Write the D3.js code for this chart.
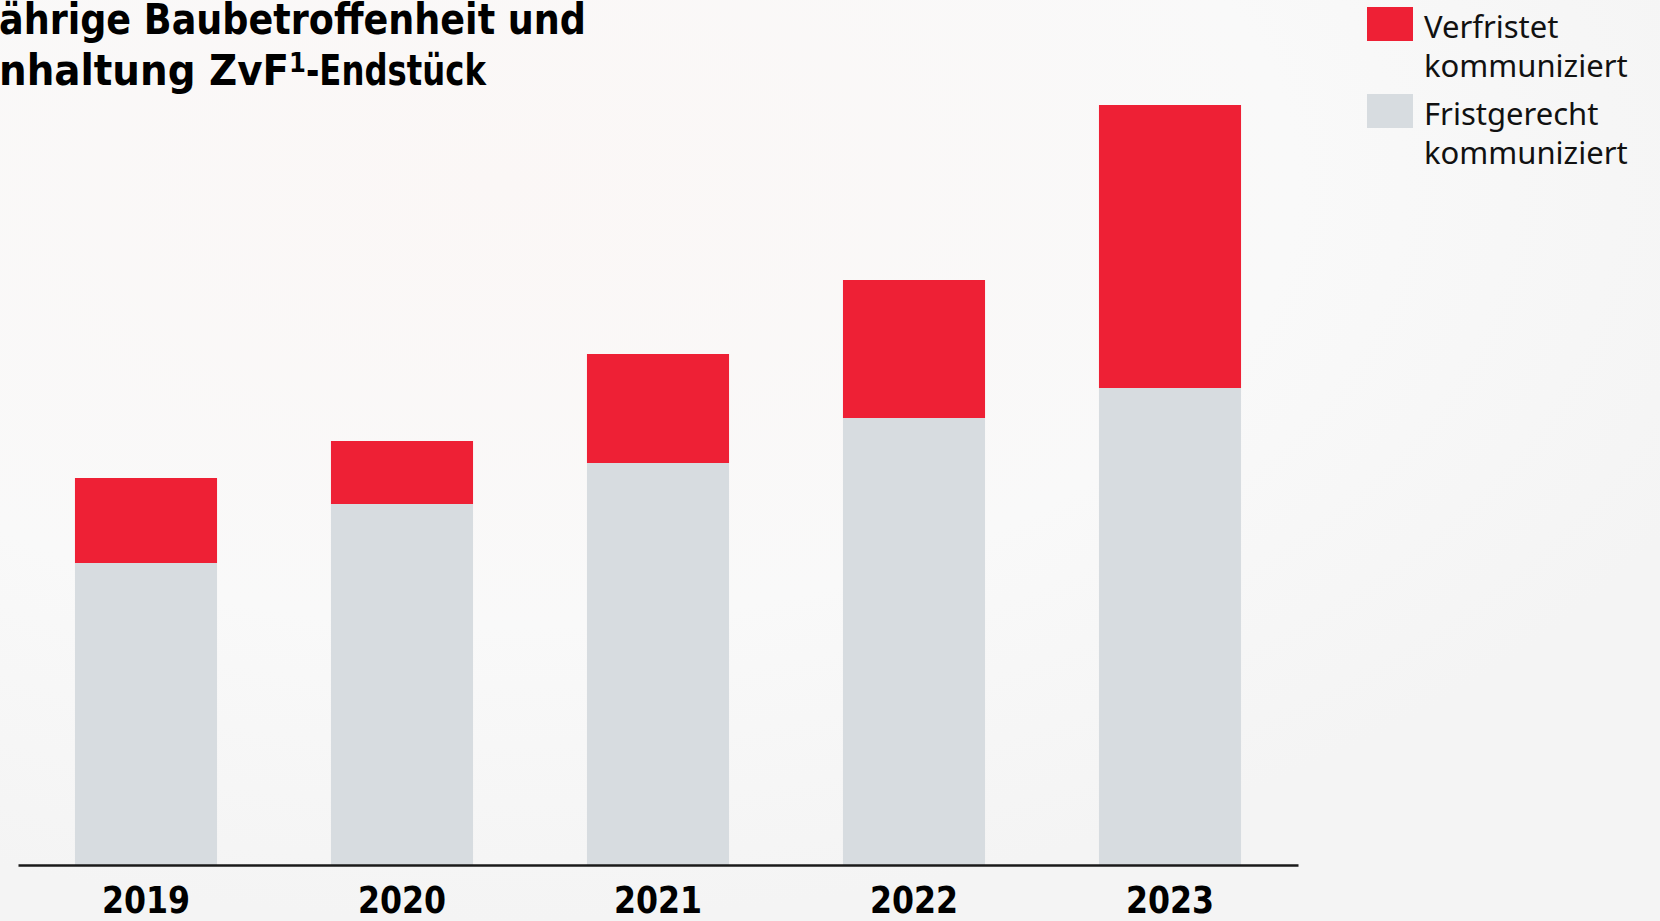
<!DOCTYPE html>
<html>
<head>
<meta charset="utf-8">
<script src="https://cdn.jsdelivr.net/npm/d3@7"></script>
<style>
  html, body { margin: 0; padding: 0; background: #f8f8f8; overflow: hidden; }
  svg { display: block; }
</style>
</head>
<body>
<script>
const years = ["2019", "2020", "2021", "2022", "2023"];
const fristgerecht = [302, 361, 402, 447, 477];
const verfristet = [85, 63, 109, 138, 283];
const seriesNames = ["Verfristet", "Fristgerecht"];
const legendLabels = [["Verfristet", "kommuniziert"], ["Fristgerecht", "kommuniziert"]];
const colors = ["#ee2035", "#d7dce0"];
const titleLines = ["ährige Baubetroffenheit und", "nhaltung ZvF"];

const W = 1660, H = 921;
const svg = d3.select("body").append("svg").attr("width", W).attr("height", H);

// background
const defs = svg.append("defs");
const bg = defs.append("radialGradient").attr("id", "bgw").attr("cx", "30%").attr("cy", "20%").attr("r", "80%");
bg.append("stop").attr("offset", "0%").attr("stop-color", "#fbf7f6");
bg.append("stop").attr("offset", "60%").attr("stop-color", "#f9f9f9");
bg.append("stop").attr("offset", "100%").attr("stop-color", "#f4f4f4");
svg.append("rect").attr("width", W).attr("height", H).attr("fill", "url(#bgw)");

const x = d3.scaleBand().domain(years).range([18, 1298]).paddingInner(0.445).paddingOuter(0.2225);
const y = d3.scaleLinear().domain([0, 800]).range([865, 65]);

const data = years.map((yr, i) => ({ year: yr, Fristgerecht: fristgerecht[i], Verfristet: verfristet[i] }));
const stack = d3.stack().keys(["Fristgerecht", "Verfristet"])(data);
const colorOf = { Verfristet: colors[0], Fristgerecht: colors[1] };

svg.append("g").selectAll("g").data(stack).join("g")
  .attr("fill", d => colorOf[d.key])
  .selectAll("rect").data(d => d).join("rect")
  .attr("x", d => x(d.data.year))
  .attr("width", x.bandwidth())
  .attr("y", d => y(d[1]))
  .attr("height", d => y(d[0]) - y(d[1]));

// axis
const ax = svg.append("g").attr("transform", `translate(0,${y(0)})`)
  .call(d3.axisBottom(x).tickSize(0).tickPadding(0));
ax.select(".domain").attr("stroke", "#1a1a1a").attr("stroke-width", 2.5);
ax.selectAll(".tick text")
  .attr("dy", null).attr("y", 48)
  .attr("fill", "#000")
  .style("font-family", "'Liberation Sans Narrow', 'DejaVu Sans Condensed', sans-serif")
  .style("font-weight", "bold")
  .style("font-size", "37px")
  .attr("textLength", 88).attr("lengthAdjust", "spacingAndGlyphs");

// title
const tf = "'Liberation Sans Narrow', 'DejaVu Sans Condensed', sans-serif";
svg.append("text").attr("x", -1).attr("y", 34)
  .style("font-family", tf).style("font-weight", "bold").style("font-size", "43px")
  .attr("fill", "#000")
  .attr("textLength", 587).attr("lengthAdjust", "spacingAndGlyphs")
  .text(titleLines[0]);
const t2 = svg.append("text").attr("x", -1).attr("y", 85)
  .style("font-family", tf).style("font-weight", "bold").style("font-size", "43px")
  .attr("fill", "#000");
t2.append("tspan").attr("textLength", 290).attr("lengthAdjust", "spacingAndGlyphs").text(titleLines[1]);
t2.append("tspan").attr("dy", -13).style("font-size", "27px").text("1");
t2.append("tspan").attr("dy", 13).attr("textLength", 180).attr("lengthAdjust", "spacingAndGlyphs").text("-Endstück");

// legend
const lg = svg.append("g");
legendLabels.forEach((lines, i) => {
  const top = 7 + i * 87;
  lg.append("rect").attr("x", 1367).attr("y", top).attr("width", 46).attr("height", 34).attr("fill", colors[i]);
  const t = lg.append("text").attr("x", 1424).attr("y", top + 31)
    .style("font-family", "'Noto Sans', 'Open Sans', sans-serif").style("font-size", "31px").attr("fill", "#111");
  lines.forEach((ln, j) => {
    t.append("tspan").attr("x", 1424).attr("dy", j === 0 ? 0 : 38.5).text(ln);
  });
});
</script>
</body>
</html>
